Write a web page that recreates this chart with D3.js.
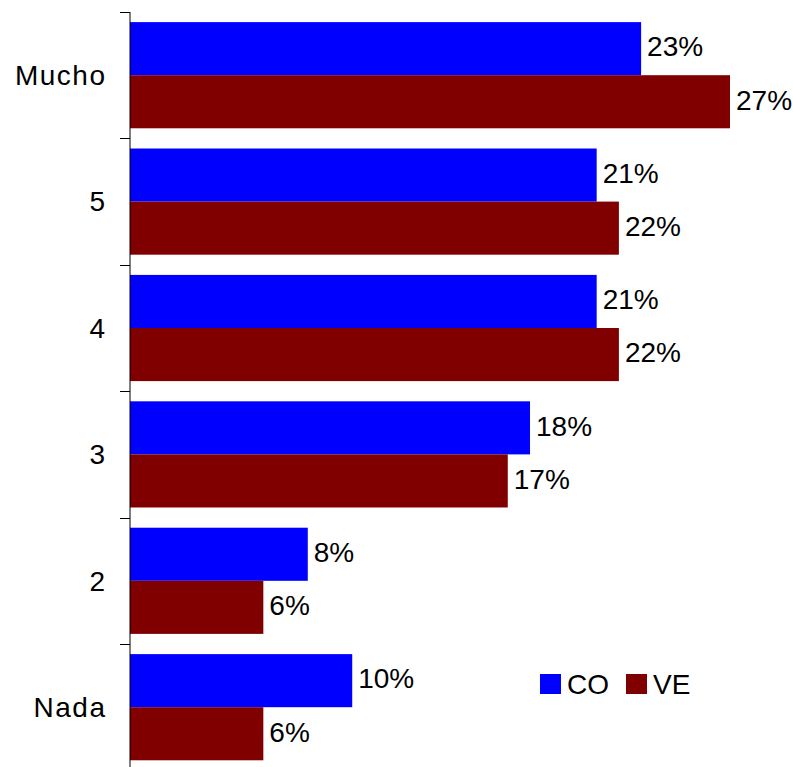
<!DOCTYPE html>
<html><head><meta charset="utf-8">
<script src="https://cdn.jsdelivr.net/npm/d3@7"></script>
<style>body{margin:0;background:#fff}svg{display:block}</style>
</head><body>
<svg id="c" width="793" height="767"></svg>
<script>
const categories = ["Mucho", "5", "4", "3", "2", "Nada"];
const seriesNames = ["CO", "VE"];
const coValues = [23, 21, 21, 18, 8, 10];
const veValues = [27, 22, 22, 17, 6, 6];
const colors = ["#0000FF", "#800000"];

const svg = d3.select("#c");
const x0 = 130, yTop = 12, bandH = 126.4;
const x = d3.scaleLinear().domain([0, 27]).range([x0, x0 + 600]);
const y = d3.scaleBand().domain(categories).range([yTop, yTop + bandH * categories.length]).paddingInner(0.16).paddingOuter(0.08);
const ys = d3.scaleBand().domain(seriesNames).range([0, y.bandwidth()]);
const font = "'Liberation Sans', Arial, sans-serif";
const fs = 28;

const data = categories.map((c, i) => ({cat: c, vals: [coValues[i], veValues[i]]}));

const g = svg.append("g");
data.forEach(d => {
  d.vals.forEach((v, j) => {
    const yy = y(d.cat) + ys(seriesNames[j]);
    g.append("rect").attr("x", x(0)).attr("y", yy).attr("width", x(v) - x(0)).attr("height", ys.bandwidth()).attr("fill", colors[j]);
    g.append("text").attr("x", x(v) + 6).attr("y", yy + ys.bandwidth() / 2 - 2).attr("dy", "0.35em")
      .attr("font-family", font).attr("font-size", fs).attr("fill", "#000").text(v + "%");
  });
});

// axis line
svg.append("line").attr("x1", x0).attr("x2", x0).attr("y1", yTop).attr("y2", yTop + bandH * categories.length).attr("stroke", "#000").attr("stroke-width", 1);
// ticks at band boundaries
d3.range(categories.length + 1).forEach(i => {
  const ty = Math.round(yTop + i * bandH) + 0.5;
  svg.append("line").attr("x1", x0 - 10).attr("x2", x0).attr("y1", ty).attr("y2", ty).attr("stroke", "#000");
});
// category labels
categories.forEach((c, i) => {
  svg.append("text").attr("x", 106.5).attr("y", yTop + i * bandH + bandH / 2).attr("dy", "0.35em")
    .attr("text-anchor", "end").attr("letter-spacing", 1.5).attr("font-family", font).attr("font-size", fs).attr("fill", "#000").text(c);
});
// legend
const leg = [{x: 540, t: 567}, {x: 626, t: 653}];
seriesNames.forEach((s, j) => {
  svg.append("rect").attr("x", leg[j].x).attr("y", 674).attr("width", 21).attr("height", 20).attr("fill", colors[j]);
  svg.append("text").attr("x", leg[j].t).attr("y", 684).attr("dy", "0.35em").attr("font-family", font).attr("font-size", fs).attr("fill", "#000").text(s);
});
</script>
</body></html>
